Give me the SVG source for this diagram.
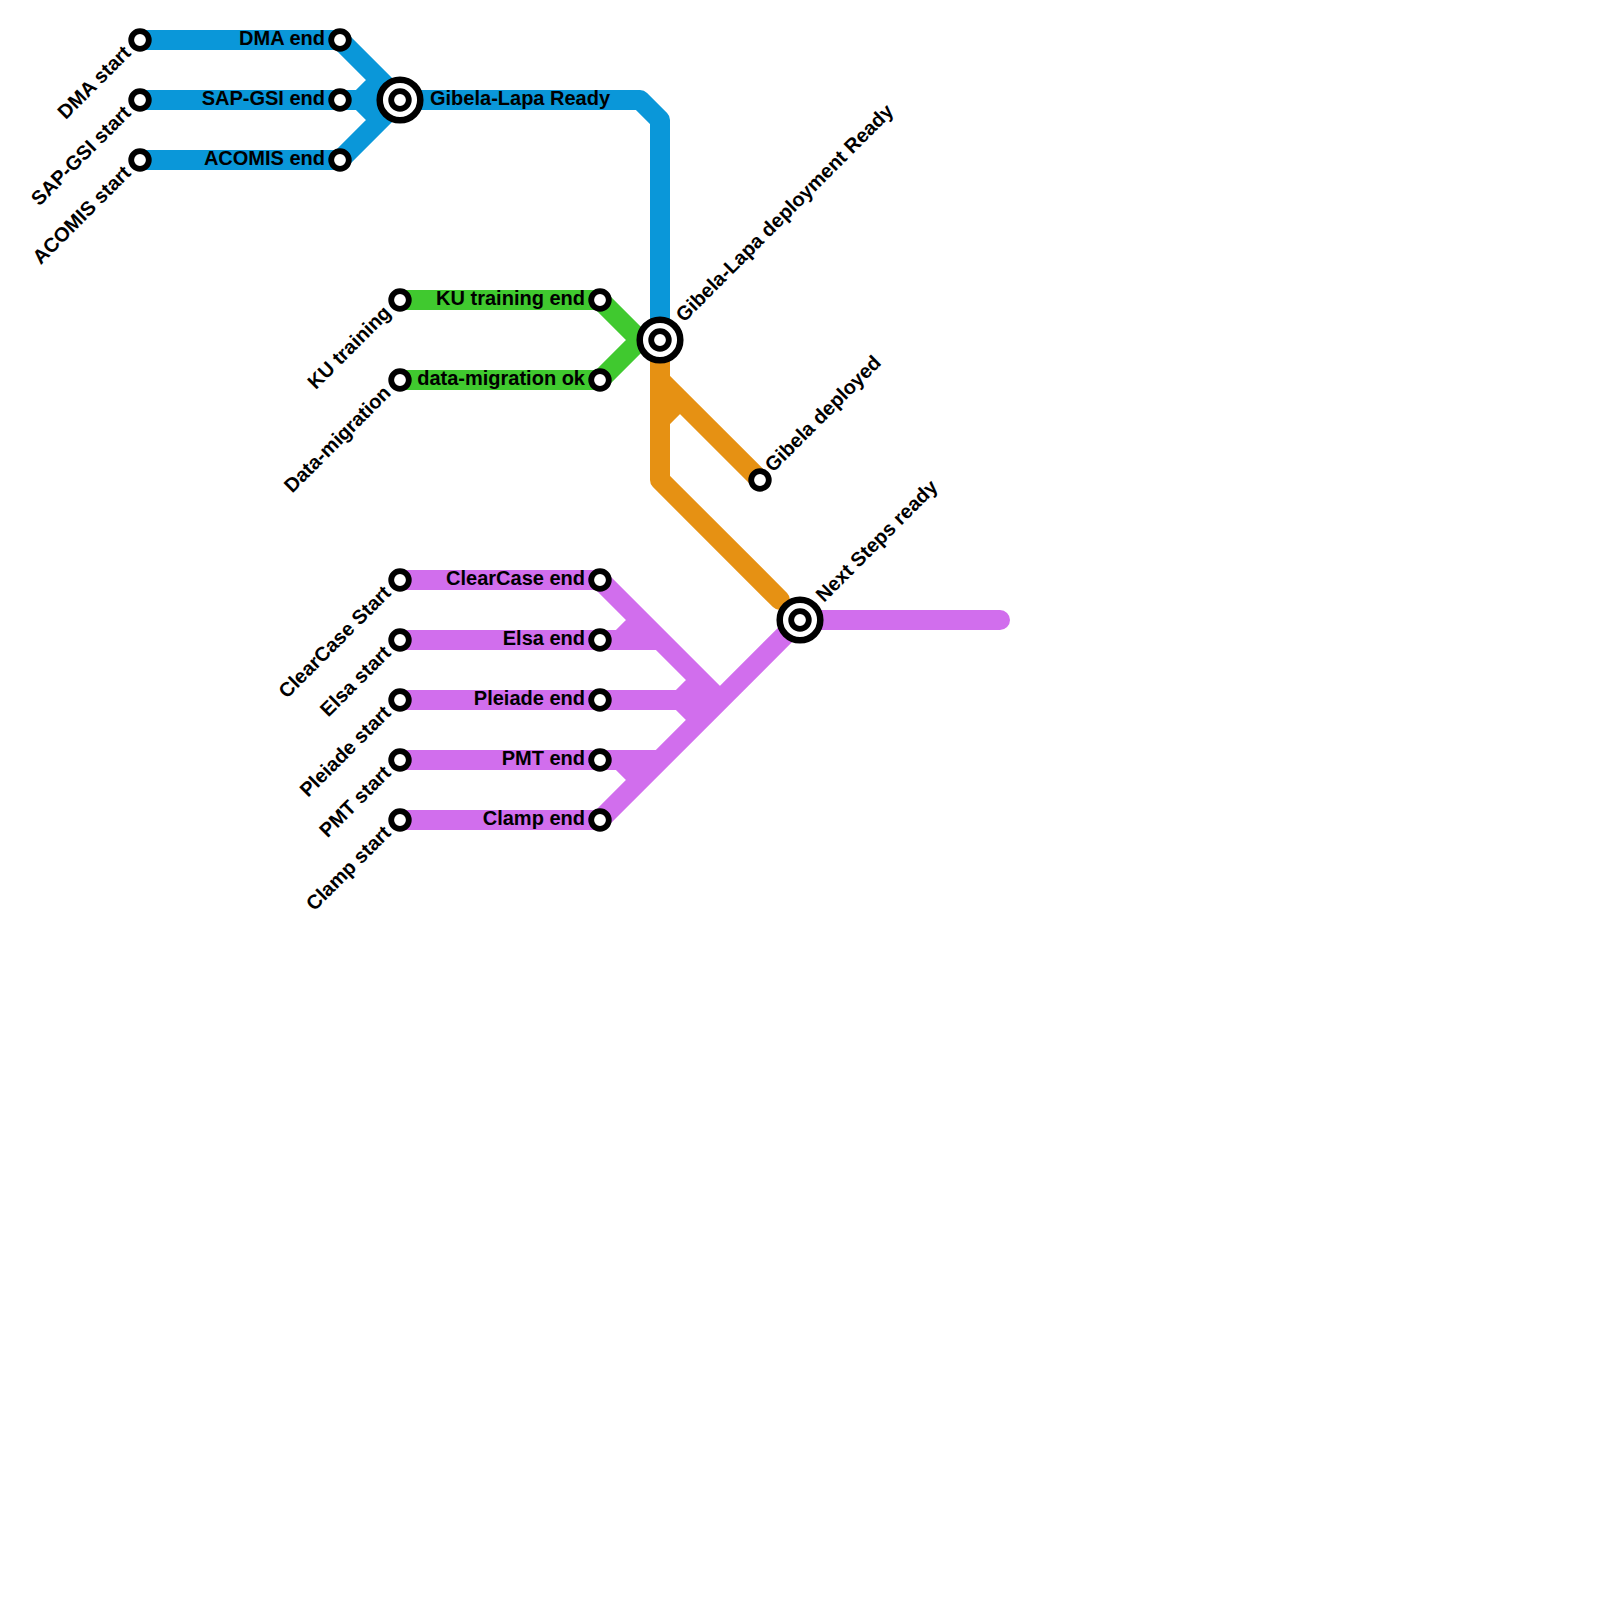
<svg xmlns="http://www.w3.org/2000/svg" width="1600" height="1600" viewBox="0 0 1600 1600">
<style>
.l{fill:none;stroke-width:20;stroke-linecap:round;stroke-linejoin:round}
.b{stroke:#0a97d9}.g{stroke:#40c92f}.o{stroke:#e69113}.p{stroke:#d16eed}
.s{fill:#fff;stroke:#000;stroke-width:5.8}
.h{fill:#fff;stroke:#000;stroke-width:6.5}
text{font-family:"Liberation Sans",Arial,sans-serif;font-size:20px;font-weight:bold;fill:#000}
.e{text-anchor:end}
</style>
<defs>
<circle id="st" class="s" r="8.8"/>
<g id="hub"><circle class="h" r="20.3"/><circle class="s" r="8.8"/></g>
</defs>
<rect width="1600" height="1600" fill="#fff"/>
<g id="connectors">
<path class="l b" d="M140 40H340L400 100M140 100H400M140 160H340L400 100M360 100L380 80M360 100L380 120M400 100H640L660 120V340"/>
<path class="l g" d="M400 300H600L640 340H660M400 380H600L640 340"/>
<path class="l o" d="M660 340V480L780 600M660 380L760 480M660 420L680 400"/>
<path class="l p" d="M400 580H600L720 700L800 620H1000M400 640H660M620 640L640 620M400 700H720M680 700L700 680M680 700L700 720M400 760H660M620 760L640 780M400 820H600L800 620"/>
</g>
<g id="n-dma-start"><use href="#st" x="140" y="40"/><text class="e" transform="translate(132 54) rotate(-45)">DMA start</text></g>
<g id="n-sap-start"><use href="#st" x="140" y="100"/><text class="e" transform="translate(132 114) rotate(-45)">SAP-GSI start</text></g>
<g id="n-acomis-start"><use href="#st" x="140" y="160"/><text class="e" transform="translate(132 174) rotate(-45)">ACOMIS start</text></g>
<g id="n-dma-end"><use href="#st" x="340" y="40"/><text class="e" x="325" y="45">DMA end</text></g>
<g id="n-sap-end"><use href="#st" x="340" y="100"/><text class="e" x="325" y="105">SAP-GSI end</text></g>
<g id="n-acomis-end"><use href="#st" x="340" y="160"/><text class="e" x="325" y="165">ACOMIS end</text></g>
<g id="n-gibela-lapa"><use href="#hub" x="400" y="100"/><text x="430" y="105">Gibela-Lapa Ready</text></g>
<g id="n-ku"><use href="#st" x="400" y="300"/><text class="e" transform="translate(392 314) rotate(-45)">KU training</text></g>
<g id="n-dm"><use href="#st" x="400" y="380"/><text class="e" transform="translate(392 394) rotate(-45)">Data-migration</text></g>
<g id="n-ku-end"><use href="#st" x="600" y="300"/><text class="e" x="585" y="305">KU training end</text></g>
<g id="n-dm-end"><use href="#st" x="600" y="380"/><text class="e" x="585" y="385">data-migration ok</text></g>
<g id="n-deploy"><use href="#hub" x="660" y="340"/><text transform="translate(684 323) rotate(-45)">Gibela-Lapa deployment Ready</text></g>
<g id="n-deployed"><use href="#st" x="760" y="480"/><text transform="translate(773 473) rotate(-45)">Gibela deployed</text></g>
<g id="n-next"><use href="#hub" x="800" y="620"/><text transform="translate(824 603) rotate(-45)">Next Steps ready</text></g>
<g id="n-cc"><use href="#st" x="400" y="580"/><text class="e" transform="translate(392 594) rotate(-45)">ClearCase Start</text></g>
<g id="n-elsa"><use href="#st" x="400" y="640"/><text class="e" transform="translate(392 654) rotate(-45)">Elsa start</text></g>
<g id="n-pleiade"><use href="#st" x="400" y="700"/><text class="e" transform="translate(392 714) rotate(-45)">Pleiade start</text></g>
<g id="n-pmt"><use href="#st" x="400" y="760"/><text class="e" transform="translate(392 774) rotate(-45)">PMT start</text></g>
<g id="n-clamp"><use href="#st" x="400" y="820"/><text class="e" transform="translate(392 834) rotate(-45)">Clamp start</text></g>
<g id="n-cc-end"><use href="#st" x="600" y="580"/><text class="e" x="585" y="585">ClearCase end</text></g>
<g id="n-elsa-end"><use href="#st" x="600" y="640"/><text class="e" x="585" y="645">Elsa end</text></g>
<g id="n-pleiade-end"><use href="#st" x="600" y="700"/><text class="e" x="585" y="705">Pleiade end</text></g>
<g id="n-pmt-end"><use href="#st" x="600" y="760"/><text class="e" x="585" y="765">PMT end</text></g>
<g id="n-clamp-end"><use href="#st" x="600" y="820"/><text class="e" x="585" y="825">Clamp end</text></g>
</svg>
